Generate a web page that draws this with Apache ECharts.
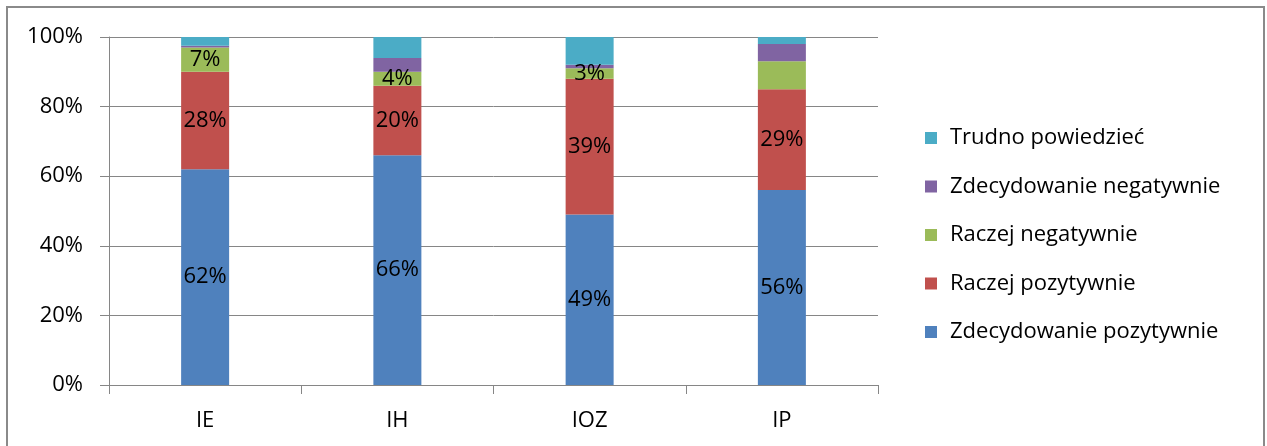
<!DOCTYPE html>
<html><head><meta charset="utf-8">
<script src="https://cdn.jsdelivr.net/npm/echarts@6/dist/echarts.min.js"></script>
<style>html,body{margin:0;padding:0;background:#fff}#c{width:1267px;height:446px}</style>
</head><body><div id="c"></div>
<script>
const categories = ['IE', 'IH', 'IOZ', 'IP'];
const zdecPoz = [62, 66, 49, 56];
const raczejPoz = [28, 20, 39, 29];
const raczejNeg = [7, 4, 3, 8];
const zdecNeg = [0.5, 4, 1, 5];
const trudno = [2.5, 6, 8, 2];
const yTicks = [0, 20, 40, 60, 80, 100];
const greenLabeled = [true, true, true, false];

const FONT = 'Open Sans';
const FS = 22;
const chart = echarts.init(document.getElementById('c'));
const lbl = {show: true, position: 'inside', color: '#000', fontSize: FS, fontFamily: FONT, formatter: p => p.value + '%'};
function mk(name, data, color, labelOn) {
  return {
    name, type: 'bar', stack: 's', barWidth: 48, itemStyle: {color},
    data: data.map((v, i) => ({value: v, label: Object.assign({}, lbl, {show: labelOn === true || (Array.isArray(labelOn) && labelOn[i])})})),
    emphasis: {disabled: true}
  };
}
chart.setOption({
  animation: false,
  graphic: [{type: 'rect', shape: {x: 7, y: 7, width: 1257, height: 460}, style: {fill: 'none', stroke: '#8a8a8a', lineWidth: 2}}],
  grid: {left: 109, right: 389, top: 37, bottom: 61},
  legend: {
    orient: 'vertical', left: 920, top: 122, itemWidth: 12, itemHeight: 12, itemGap: 26.5,
    icon: 'rect',
    textStyle: {fontSize: FS, lineHeight: 22, fontFamily: FONT, color: '#000', padding: [0, 0, 0, 8]},
    data: ['Trudno powiedzieć', 'Zdecydowanie negatywnie', 'Raczej negatywnie', 'Raczej pozytywnie', 'Zdecydowanie pozytywnie']
  },
  xAxis: {
    type: 'category', data: categories,
    axisLine: {lineStyle: {color: '#868686', width: 1}},
    axisTick: {show: true, length: 9, lineStyle: {color: '#868686'}},
    axisLabel: {fontSize: FS, fontFamily: FONT, color: '#000', margin: 25}
  },
  yAxis: {
    type: 'value', min: 0, max: 100, interval: 20,
    axisLine: {show: true, lineStyle: {color: '#868686'}},
    axisTick: {show: true, length: 9, lineStyle: {color: '#868686'}},
    splitLine: {lineStyle: {color: '#868686'}},
    axisLabel: {fontSize: FS, fontFamily: FONT, color: '#000', margin: 26, formatter: v => yTicks.includes(v) ? v + '%' : ''}
  },
  series: [
    mk('Zdecydowanie pozytywnie', zdecPoz, '#4F81BD', true),
    mk('Raczej pozytywnie', raczejPoz, '#C0504D', true),
    mk('Raczej negatywnie', raczejNeg, '#9BBB59', greenLabeled),
    mk('Zdecydowanie negatywnie', zdecNeg, '#8064A2', false),
    mk('Trudno powiedzieć', trudno, '#4BACC6', false)
  ]
});
</script></body></html>
